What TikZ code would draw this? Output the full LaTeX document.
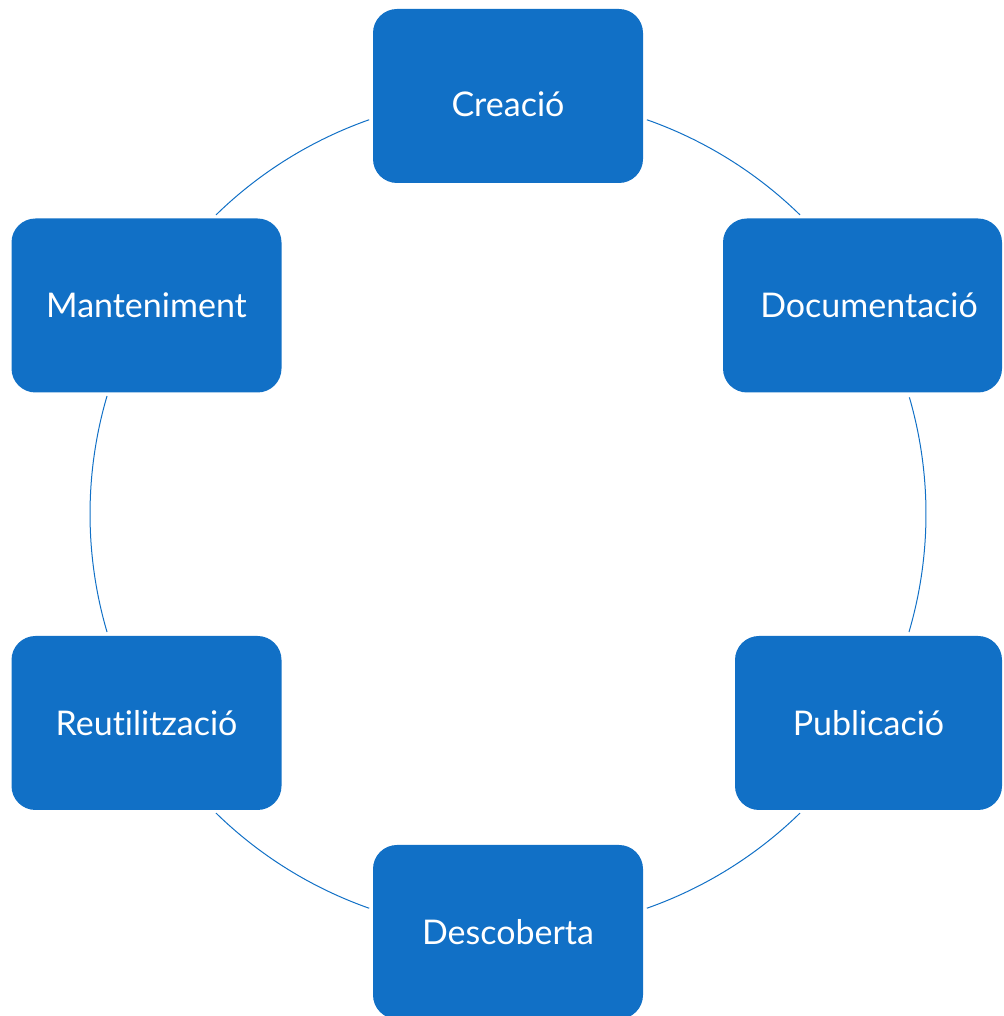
\documentclass[tikz,border=0pt]{standalone}
\usepackage{fontspec}
\setmainfont{Lato}[Ligatures=NoCommon]
\usetikzlibrary{positioning}
\definecolor{stage}{RGB}{17,112,198}

\begin{document}
\begin{tikzpicture}[x=1pt, y=1pt,
  stagebox/.style={rectangle, rounded corners=24pt, fill=stage, text=white,
    minimum width=270pt, minimum height=174pt, inner sep=0pt,
    font=\fontsize{34}{38}\selectfont, text height=24.5pt, text depth=0pt},
  ring/.style={draw=stage, line width=1pt}]
\useasboundingbox (0,0) rectangle (1003,1016);
% Centre of the cycle
\coordinate (hub) at (508,502);
% Stages
\node[stagebox, text height=40.5pt] (creacio) at (508,920) {Creació};
\node[stagebox, minimum width=279pt] (documentacio) at (862.5,710.5) {\hspace*{13pt}Documentació};
\node[stagebox, minimum width=267pt] (publicacio) at (868.5,293) {Publicació};
\node[stagebox] (descoberta) at (508,84) {Descoberta};
\node[stagebox] (reutilitzacio) at (146.5,293) {Reutilització};
\node[stagebox] (manteniment) at (146.5,710.5) {Manteniment};

% Cycle
\draw[ring] (hub) ++(70.6:418) arc[start angle=70.6, end angle=45.7, radius=418];
\draw[ring] (hub) ++(16.2:418) arc[start angle=16.2, end angle=-16.4, radius=418];
\draw[ring] (hub) ++(-45.7:418) arc[start angle=-45.7, end angle=-70.6, radius=418];
\draw[ring] (hub) ++(-109.4:418) arc[start angle=-109.4, end angle=-134.3, radius=418];
\draw[ring] (hub) ++(196.4:418) arc[start angle=196.4, end angle=163.6, radius=418];
\draw[ring] (hub) ++(134.3:418) arc[start angle=134.3, end angle=109.4, radius=418];
\end{tikzpicture}
\end{document}
